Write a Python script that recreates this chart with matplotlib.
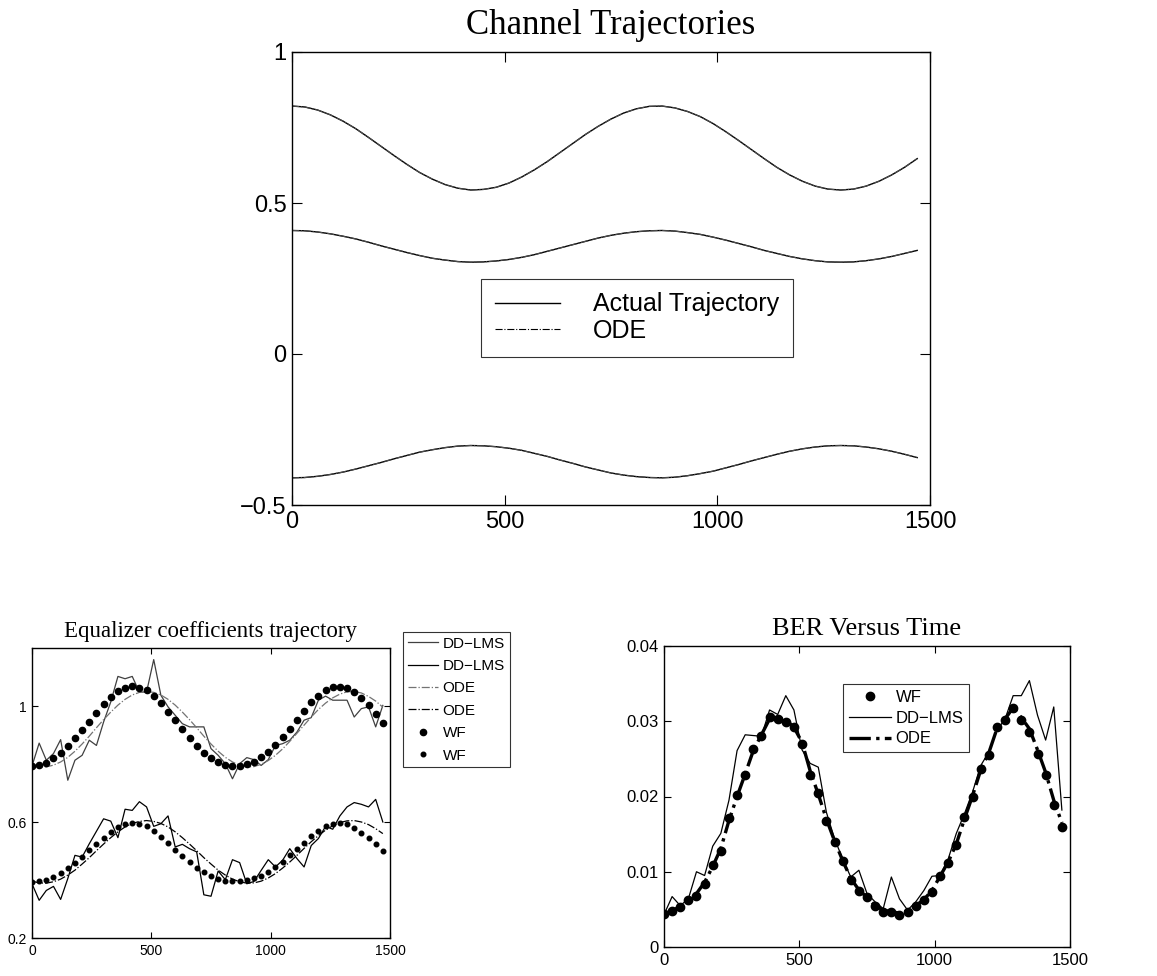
import matplotlib
matplotlib.use("Agg")
import matplotlib.pyplot as plt
from matplotlib.lines import Line2D

# ---------------- data ----------------
t = [0, 30, 60, 90, 120, 150, 180, 210, 240, 270, 300, 330, 360, 390, 420, 450, 480, 510, 540, 570,
     600, 630, 660, 690, 720, 750, 780, 810, 840, 870, 900, 930, 960, 990, 1020, 1050, 1080, 1110, 1140, 1170,
     1200, 1230, 1260, 1290, 1320, 1350, 1380, 1410, 1440, 1470]

# Channel trajectories (top panel)
chan_top = [0.821, 0.818, 0.808, 0.792, 0.771, 0.746, 0.717, 0.687, 0.657, 0.628, 0.601, 0.579, 0.561, 0.549,
            0.543, 0.545, 0.552, 0.566, 0.586, 0.610, 0.637, 0.667, 0.697, 0.727, 0.754, 0.778, 0.798, 0.812,
            0.820, 0.821, 0.815, 0.803, 0.786, 0.763, 0.736, 0.707, 0.677, 0.647, 0.618, 0.593, 0.572, 0.556,
            0.546, 0.543, 0.546, 0.556, 0.572, 0.593, 0.618, 0.647]
chan_mid = [0.409, 0.408, 0.404, 0.398, 0.390, 0.381, 0.370, 0.358, 0.347, 0.336, 0.326, 0.317, 0.311, 0.306,
            0.304, 0.305, 0.308, 0.313, 0.320, 0.329, 0.340, 0.351, 0.362, 0.373, 0.384, 0.393, 0.400, 0.405,
            0.408, 0.409, 0.407, 0.402, 0.396, 0.387, 0.377, 0.366, 0.355, 0.343, 0.333, 0.323, 0.315, 0.309,
            0.305, 0.304, 0.305, 0.309, 0.315, 0.323, 0.333, 0.343]
chan_bot = [-0.410, -0.409, -0.405, -0.399, -0.391, -0.381, -0.370, -0.359, -0.347, -0.336, -0.325, -0.317,
            -0.310, -0.305, -0.303, -0.304, -0.307, -0.312, -0.319, -0.329, -0.339, -0.351, -0.362, -0.374,
            -0.384, -0.394, -0.401, -0.406, -0.409, -0.410, -0.408, -0.403, -0.396, -0.388, -0.377, -0.366,
            -0.354, -0.343, -0.332, -0.322, -0.314, -0.308, -0.304, -0.303, -0.304, -0.308, -0.314, -0.322,
            -0.332, -0.343]

# Equalizer coefficients (bottom-left panel)
lms_up = [0.793, 0.872, 0.813, 0.836, 0.884, 0.744, 0.813, 0.830, 0.882, 0.864, 0.945, 1.014, 1.102, 1.094,
          1.102, 1.048, 1.048, 1.160, 1.037, 0.997, 0.968, 0.939, 0.928, 0.928, 0.928, 0.853, 0.830, 0.801,
          0.749, 0.801, 0.822, 0.815, 0.795, 0.815, 0.864, 0.870, 0.882, 0.910, 0.951, 0.960, 1.020, 1.034,
          1.020, 1.020, 1.020, 0.962, 0.991, 0.997, 0.928, 1.002]
lms_lo = [0.387, 0.330, 0.364, 0.378, 0.333, 0.405, 0.485, 0.479, 0.525, 0.568, 0.611, 0.603, 0.546, 0.644,
          0.640, 0.670, 0.652, 0.585, 0.594, 0.621, 0.514, 0.523, 0.508, 0.497, 0.349, 0.344, 0.431, 0.401,
          0.470, 0.460, 0.387, 0.395, 0.433, 0.470, 0.445, 0.468, 0.508, 0.474, 0.445, 0.519, 0.543, 0.585,
          0.575, 0.621, 0.652, 0.667, 0.661, 0.652, 0.678, 0.600]
ode_up = [0.799, 0.791, 0.790, 0.796, 0.807, 0.823, 0.844, 0.869, 0.896, 0.925, 0.953, 0.979, 1.003, 1.023,
          1.038, 1.047, 1.050, 1.047, 1.038, 1.023, 1.003, 0.979, 0.953, 0.925, 0.896, 0.869, 0.844, 0.823,
          0.807, 0.796, 0.790, 0.791, 0.799, 0.812, 0.830, 0.852, 0.878, 0.906, 0.934, 0.962, 0.988, 1.010,
          1.028, 1.041, 1.049, 1.050, 1.045, 1.033, 1.017, 0.996]
ode_lo = [0.396, 0.390, 0.389, 0.394, 0.403, 0.417, 0.434, 0.455, 0.477, 0.501, 0.524, 0.546, 0.566, 0.583,
          0.595, 0.602, 0.605, 0.602, 0.595, 0.583, 0.566, 0.546, 0.524, 0.501, 0.477, 0.455, 0.434, 0.417,
          0.403, 0.394, 0.389, 0.390, 0.396, 0.407, 0.422, 0.441, 0.462, 0.485, 0.509, 0.532, 0.553, 0.572,
          0.587, 0.598, 0.604, 0.605, 0.600, 0.591, 0.577, 0.560]
wf_up = [0.793, 0.797, 0.805, 0.820, 0.839, 0.862, 0.888, 0.917, 0.946, 0.977, 1.006, 1.032, 1.052, 1.062,
         1.068, 1.063, 1.054, 1.033, 1.009, 0.979, 0.951, 0.920, 0.891, 0.863, 0.839, 0.820, 0.806, 0.798,
         0.793, 0.794, 0.800, 0.808, 0.823, 0.841, 0.866, 0.893, 0.922, 0.953, 0.984, 1.014, 1.036, 1.054,
         1.064, 1.067, 1.061, 1.049, 1.028, 1.002, 0.974, 0.943]
wf_lo = [0.393, 0.395, 0.401, 0.410, 0.424, 0.441, 0.459, 0.479, 0.502, 0.525, 0.546, 0.567, 0.583, 0.594,
         0.598, 0.594, 0.585, 0.569, 0.548, 0.529, 0.505, 0.482, 0.461, 0.443, 0.426, 0.413, 0.402, 0.397,
         0.395, 0.396, 0.400, 0.406, 0.415, 0.429, 0.445, 0.462, 0.485, 0.508, 0.529, 0.551, 0.569, 0.585,
         0.594, 0.598, 0.594, 0.579, 0.562, 0.545, 0.524, 0.500]

# BER versus time (bottom-right panel)
ber_wf = [0.00434, 0.00478, 0.0053, 0.0063, 0.0068, 0.0084, 0.0109, 0.0128, 0.0171, 0.0202, 0.0229, 0.0263,
          0.0280, 0.0305, 0.0303, 0.0299, 0.0292, 0.0270, 0.0229, 0.0204, 0.0168, 0.0140, 0.0114, 0.0089,
          0.0075, 0.0066, 0.0054, 0.0047, 0.0047, 0.0043, 0.0047, 0.0054, 0.0062, 0.0073, 0.0095, 0.0112,
          0.0136, 0.0173, 0.0199, 0.0237, 0.0255, 0.0292, 0.0301, 0.0317, 0.0301, 0.0286, 0.0256, 0.0229,
          0.0189, 0.0159]
ber_lms = [0.0043, 0.0067, 0.0055, 0.0064, 0.0100, 0.0095, 0.0134, 0.0151, 0.0195, 0.0261, 0.0282, 0.0281,
           0.0280, 0.0315, 0.0309, 0.0334, 0.0315, 0.0262, 0.0244, 0.0239, 0.0179, 0.0144, 0.0117, 0.0093,
           0.0102, 0.0071, 0.0060, 0.0051, 0.0093, 0.0064, 0.0049, 0.0060, 0.0075, 0.0094, 0.0095, 0.0117,
           0.0151, 0.0177, 0.0206, 0.0241, 0.0259, 0.0288, 0.0303, 0.0334, 0.0334, 0.0354, 0.0308, 0.0275,
           0.0319, 0.0182]
ber_ode = [0.0044, 0.0048, 0.0054, 0.0062, 0.0071, 0.0086, 0.0107, 0.0131, 0.0168, 0.0200, 0.0230, 0.0261,
           0.0282, 0.0303, 0.0305, 0.0302, 0.0292, 0.0272, 0.0234, 0.0203, 0.0170, 0.0141, 0.0115, 0.0091,
           0.0076, 0.0066, 0.0055, 0.0049, 0.0047, 0.0045, 0.0048, 0.0055, 0.0063, 0.0075, 0.0094, 0.0113,
           0.0137, 0.0170, 0.0201, 0.0235, 0.0258, 0.0290, 0.0303, 0.0318, 0.0305, 0.0290, 0.0262, 0.0232,
           0.0195, 0.0165]

x_ticks = [0, 500, 1000, 1500]

# ---------------- figure ----------------
W, H = 1157, 976
fig = plt.figure(figsize=(W / 100, H / 100), dpi=100)
sans = ["Liberation Sans", "DejaVu Sans"]
serif = ["Liberation Serif", "DejaVu Serif"]


def px_axes(l, t_, r, b):
    return fig.add_axes([l / W, 1 - b / H, (r - l) / W, (b - t_) / H])


def style(ax, size, ticklen):
    ax.tick_params(direction="in", top=True, right=True, length=ticklen, width=0.8,
                   labelsize=size, pad=4)
    for lab in ax.get_xticklabels() + ax.get_yticklabels():
        lab.set_family(sans)
    for s in ax.spines.values():
        s.set_linewidth(1.0)


# Top panel
ax1 = px_axes(292, 52, 930, 505)
for y in (chan_top, chan_mid, chan_bot):
    ax1.plot(t, y, color="black", lw=1.0, ls="-")
for y in (chan_top, chan_mid, chan_bot):
    ax1.plot(t, y, color="0.3", lw=0.8, ls="-.")
ax1.set_xlim(0, 1500)
ax1.set_ylim(-0.5, 1)
ax1.set_xticks(x_ticks)
ax1.set_yticks([-0.5, 0, 0.5, 1])
ax1.set_yticklabels(["\u22120.5", "0", "0.5", "1"])
style(ax1, 17, 7)
ax1.set_title("Channel Trajectories", family=serif, fontsize=25, pad=13)
h1 = [Line2D([], [], color="black", lw=1.0, ls="-"),
      Line2D([], [], color="black", lw=0.8, ls="-.")]
leg1 = ax1.legend(h1, ["Actual Trajectory", "ODE"], loc="upper left",
                  bbox_to_anchor=(0.297, 0.5), prop={"family": sans, "size": 18},
                  frameon=True, fancybox=False, edgecolor="black", handlelength=2.6,
                  handletextpad=1.3, borderpad=0.55, labelspacing=0.1, borderaxespad=0)
leg1.get_frame().set_linewidth(0.8)

# Bottom-left panel
ax2 = px_axes(32, 648, 390, 938)
ax2.plot(t, lms_up, color="0.25", lw=0.9, label="DD\u2212LMS")
ax2.plot(t, lms_lo, color="black", lw=0.9, label="DD\u2212LMS")
ax2.plot(t, ode_up, color="0.45", lw=0.9, ls="-.", label="ODE")
ax2.plot(t, ode_lo, color="black", lw=0.9, ls="-.", label="ODE")
ax2.plot(t, wf_up, ls="none", marker="o", ms=4.5, color="black", label="WF")
ax2.plot(t, wf_lo, ls="none", marker="o", ms=3.3, color="black", label="WF")
ax2.set_xlim(0, 1500)
ax2.set_ylim(0.2, 1.2)
ax2.set_xticks(x_ticks)
ax2.set_yticks([0.2, 0.6, 1.0])
ax2.set_yticklabels(["0.2", "0.6", "1"])
style(ax2, 10, 4)
ax2.set_title("Equalizer coefficients trajectory", family=serif, fontsize=16.5, pad=8)
leg2 = fig.legend(*ax2.get_legend_handles_labels(), loc="upper left",
                  bbox_to_anchor=(403 / W, 1 - 632 / H), prop={"family": sans, "size": 11},
                  frameon=True, fancybox=False, edgecolor="black", handlelength=2.0,
                  handletextpad=0.3, borderpad=0.3, labelspacing=0.55, borderaxespad=0)
leg2.get_frame().set_linewidth(0.8)

# Bottom-right panel
ax3 = px_axes(664, 646, 1070, 947)
ax3.plot(t, ber_wf, ls="none", marker="o", ms=6, color="black", label="WF", zorder=3)
ax3.plot(t, ber_lms, color="black", lw=0.9, label="DD\u2212LMS")
ax3.plot(t, ber_ode, color="black", lw=2.4, ls="-.", label="ODE")
ax3.set_xlim(0, 1500)
ax3.set_ylim(0, 0.04)
ax3.set_xticks(x_ticks)
ax3.set_yticks([0, 0.01, 0.02, 0.03, 0.04])
ax3.set_yticklabels(["0", "0.01", "0.02", "0.03", "0.04"])
style(ax3, 12, 5)
ax3.set_title("BER Versus Time", family=serif, fontsize=19, pad=8)
leg3 = ax3.legend(loc="upper left", bbox_to_anchor=(0.441, 0.874),
                  prop={"family": sans, "size": 12}, frameon=True, fancybox=False,
                  edgecolor="black", handlelength=2.5, handletextpad=0.3, borderpad=0.35,
                  labelspacing=0.35, borderaxespad=0)
leg3.get_frame().set_linewidth(0.8)

fig.savefig("out.png", dpi=100, facecolor="white")
